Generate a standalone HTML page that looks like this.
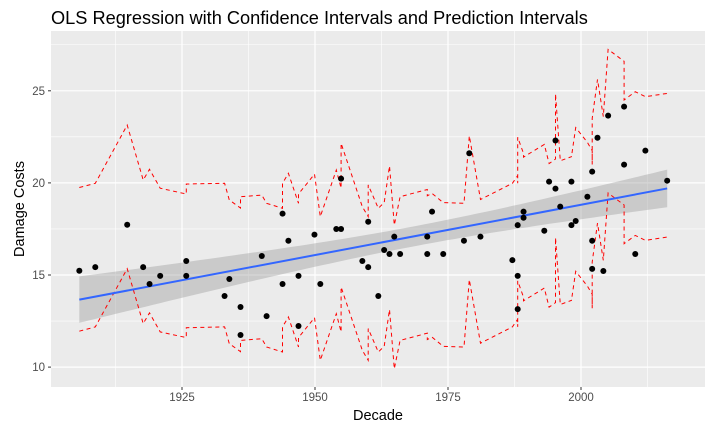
<!DOCTYPE html>
<html><head><meta charset="utf-8"><style>
html,body{margin:0;padding:0;background:#fff;}
svg{display:block;font-family:"Liberation Sans",Arial,sans-serif;}
</style></head><body>
<svg id="chart" width="714" height="437" viewBox="0 0 714 437">
<text x="51" y="24" font-size="18.2" fill="#000">OLS Regression with Confidence Intervals and Prediction Intervals</text>
<rect x="51" y="31" width="654" height="356" fill="#ebebeb"/>
<g id="grid"></g><g id="band"></g><g id="pi"></g><g id="fit"></g><g id="pts"></g><g id="axes"></g>
<text x="378" y="420" font-size="14.5" text-anchor="middle" fill="#000">Decade</text>
<text transform="translate(24,209) rotate(-90)" font-size="14.5" text-anchor="middle" fill="#000">Damage Costs</text>
</svg>
<script>
const years=[1905.7,1908.7,1914.7,1917.7,1918.9,1920.9,1925.8,1925.8,1933,1933.9,1936,1936,1940,1940.9,1943.9,1943.9,1945,1946.9,1946.9,1949.9,1951,1954,1954.9,1954.9,1958.9,1960,1960,1961.9,1963,1964,1964.9,1966,1971.1,1971.1,1972,1974.1,1978,1979,1981.1,1987.1,1988.1,1988.1,1988.1,1989.2,1989.2,1993.1,1994,1995.2,1995.2,1996.1,1998.2,1998.2,1999,2001.2,2002.1,2002.1,2002.1,2003.1,2004.2,2005.1,2008.1,2008.1,2010.2,2012.1,2016.2];
const costs=[15.23,15.43,17.73,15.43,14.51,14.95,15.76,14.95,13.86,14.78,13.26,11.74,16.03,12.77,18.33,14.51,16.86,12.23,14.95,17.19,14.51,17.50,17.50,20.23,15.76,15.43,17.89,13.86,16.36,16.14,17.08,16.14,17.08,16.14,18.44,16.14,16.86,21.61,17.08,15.81,14.95,13.15,17.71,18.44,18.11,17.40,20.07,19.69,22.30,18.71,20.07,17.71,17.93,19.25,16.86,15.33,20.61,22.45,15.22,23.65,24.14,20.99,16.14,21.75,20.12];
const piUpper=[19.75,19.98,23.14,20.16,20.74,19.71,19.40,19.94,19.98,19.07,18.64,19.25,19.34,18.89,18.62,19.98,20.52,18.89,19.4,20.48,18.17,20.70,19.71,22.15,18.71,18.17,19.89,18.62,18.93,20.92,17.71,19.25,19.64,19.3,19.43,18.93,18.89,22.55,19.1,19.98,20.4,19.98,22.48,21.6,21.4,22.09,21.05,21.3,24.83,21.2,21.42,21.4,23.0,22.2,21.75,21.0,23.5,25.62,23.6,27.25,26.6,24.5,24.95,24.68,24.86];
const piWidth=7.8;
const xTicks=[1925,1950,1975,2000];
const yTicks=[10,15,20,25];
const NS="http://www.w3.org/2000/svg";
const L=51,R=705,T=31,B=387;
const X=v=>182+(v-1925)*5.32;
const Y=v=>275-(v-15)*18.42;
function mk(tag,parent,attrs){const e=document.createElementNS(NS,tag);for(const k in attrs)e.setAttribute(k,attrs[k]);document.getElementById(parent).appendChild(e);return e;}
for(let i=0;i<xTicks.length+1;i++){const m=xTicks[0]-12.5+25*i;const e=mk('line','grid',{x1:X(m),x2:X(m),y1:T,y2:B,stroke:'#fff','stroke-width':0.6});

}
for(let i=0;i<yTicks.length;i++){const m=yTicks[i]+2.5;if(Y(m)<T)continue;const e=mk('line','grid',{x1:L,x2:R,y1:Y(m),y2:Y(m),stroke:'#fff','stroke-width':0.6});

}
{const e=mk('line','grid',{x1:L,x2:R,y1:Y(yTicks[0]-2.5),y2:Y(yTicks[0]-2.5),stroke:'#fff','stroke-width':0.6});

}
xTicks.forEach(t=>{const e=mk('line','grid',{x1:X(t),x2:X(t),y1:T,y2:B,stroke:'#fff','stroke-width':1.2});


const k=mk('line','axes',{x1:X(t),x2:X(t),y1:B,y2:B+3,stroke:'#333','stroke-width':1});


const l=mk('text','axes',{x:X(t),y:B+14,'font-size':11.5,'text-anchor':'middle',fill:'#4d4d4d'});l.textContent=t;

});
yTicks.forEach(t=>{const e=mk('line','grid',{x1:L,x2:R,y1:Y(t),y2:Y(t),stroke:'#fff','stroke-width':1.2});


const k=mk('line','axes',{x1:L-3,x2:L,y1:Y(t),y2:Y(t),stroke:'#333','stroke-width':1});


const l=mk('text','axes',{x:L-6,y:Y(t)+4,'font-size':11.5,'text-anchor':'end',fill:'#4d4d4d'});l.textContent=t;

});
const n=years.length;const xb=years.reduce((a,b)=>a+b)/n,yb=costs.reduce((a,b)=>a+b)/n;
let sxx=0,sxy=0;for(let i=0;i<n;i++){sxx+=(years[i]-xb)**2;sxy+=(years[i]-xb)*(costs[i]-yb);}
const b1=sxy/sxx,b0=yb-b1*xb;let sse=0;for(let i=0;i<n;i++)sse+=(costs[i]-b0-b1*years[i])**2;
const s=Math.sqrt(sse/(n-2)),tq=2.0;
const x0=Math.min(...years),x1=Math.max(...years);
let up=[],lo=[];for(let k=0;k<=80;k++){const xv=x0+(x1-x0)*k/80;const f=b0+b1*xv;const se=s*Math.sqrt(1/n+(xv-xb)**2/sxx);up.push(X(xv).toFixed(1)+','+Y(f+tq*se).toFixed(1));lo.unshift(X(xv).toFixed(1)+','+Y(f-tq*se).toFixed(1));}
{const e=mk('polygon','band',{points:up.concat(lo).join(' '),fill:'#999','fill-opacity':0.4});

}
{const e=mk('line','fit',{x1:X(x0),y1:Y(b0+b1*x0),x2:X(x1),y2:Y(b0+b1*x1),stroke:'#3366ff','stroke-width':2});

}
const pu=years.map((y,i)=>X(y).toFixed(1)+','+Y(piUpper[i]).toFixed(1)).join(' ');
const pl=years.map((y,i)=>X(y).toFixed(1)+','+Y(piUpper[i]-piWidth).toFixed(1)).join(' ');
{const e=mk('polyline','pi',{points:pu,fill:'none',stroke:'#ff0000','stroke-width':1,'stroke-dasharray':'4,3.5'});

}
{const e=mk('polyline','pi',{points:pl,fill:'none',stroke:'#ff0000','stroke-width':1,'stroke-dasharray':'4,3.5'});

}
years.forEach((y,i)=>{const c=mk('circle','pts',{cx:X(y),cy:Y(costs[i]),r:3,fill:'#000'});

});
</script>
</body></html>
